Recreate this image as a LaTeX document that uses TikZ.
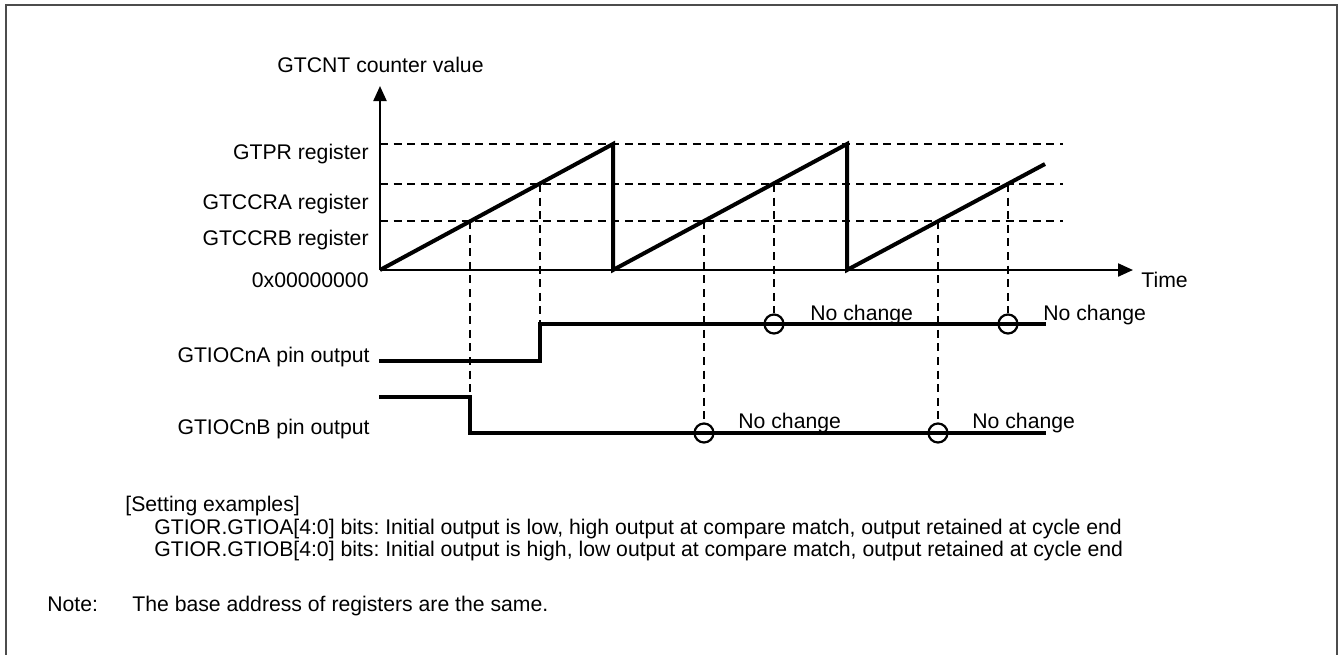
\documentclass[tikz,border=0pt]{standalone}
\usepackage{fontspec}
\setmainfont{Liberation Sans}
\usetikzlibrary{arrows.meta}
\frenchspacing
\begin{document}
\begin{tikzpicture}[x=0.5pt,y=-0.5pt,
  txt/.style={font=\fontsize{10.6}{12}\selectfont, inner sep=0pt},
  axis/.style={line width=1.1pt},
  saw/.style={line width=2pt, line join=miter},
  sig/.style={line width=1.8pt, line join=miter},
  guide/.style={line width=1.3pt, dash pattern=on 4pt off 2.8pt},
  nochg/.style={circle, draw, line width=1.1pt, minimum size=9.5pt, inner sep=0pt},
  frame/.style={line width=1.1pt, draw=black!70}]
\useasboundingbox (0,0) rectangle (1340,654);
\draw[frame] (6,660) -- (6,5) -- (1337,5) -- (1337,660);

% axes
\coordinate (O) at (380,270);
\coordinate (Ytop) at (380,86);
\coordinate (Xend) at (1133,270);
\draw[axis,-{Triangle[width=6.5pt,length=7.5pt]}] (O) -- (Ytop);
\draw[axis,-{Triangle[width=6.5pt,length=7.5pt]}] (O) -- (Xend);

% level guides
\coordinate (PRl) at (380,144); \coordinate (PRr) at (1063,144);
\coordinate (CAl) at (380,184); \coordinate (CAr) at (1063,184);
\coordinate (CBl) at (380,221); \coordinate (CBr) at (1063,221);
\draw[guide] (PRl) -- (PRr);
\draw[guide] (CAl) -- (CAr);
\draw[guide] (CBl) -- (CBr);

% sawtooth
\coordinate (P1) at (613,144); \coordinate (Z1) at (613,270);
\coordinate (P2) at (847,144); \coordinate (Z2) at (847,270);
\coordinate (E3) at (1045,164);
\draw[saw] (O) -- (P1) -- (Z1) -- (P2) -- (Z2) -- (E3);

% output A
\coordinate (A0) at (379,361); \coordinate (A1) at (540,361);
\coordinate (A2) at (540,324); \coordinate (A3) at (1046,324);
\draw[sig] (A0) -- (A1) -- (A2) -- (A3);
% output B
\coordinate (B0) at (379,397); \coordinate (B1) at (470,397);
\coordinate (B2) at (470,433); \coordinate (B3) at (1046,433);
\draw[sig] (B0) -- (B1) -- (B2) -- (B3);

% no-change circles
\node[nochg] (cA1) at (774,324) {};
\node[nochg] (cA2) at (1008,324) {};
\node[nochg] (cB1) at (704,433) {};
\node[nochg] (cB2) at (938,433) {};

% compare match points
\coordinate (mB1) at (470,221); \coordinate (mA1) at (540,184);
\coordinate (mB2) at (704,221); \coordinate (mA2) at (774,184);
\coordinate (mB3) at (938,221); \coordinate (mA3) at (1008,184);
\draw[guide] (mB1) -- (B1);
\draw[guide] (mA1) -- (A2);
\draw[guide] (mB2) -- (cB1.north);
\draw[guide] (mA2) -- (cA1.north);
\draw[guide] (mB3) -- (cB2.north);
\draw[guide] (mA3) -- (cA2.north);

% labels
\node[txt, anchor=base west] (ylab) at (277,72) {GTCNT counter value};
\node[txt, anchor=base east] (lpr) at (369,159) {GTPR register};
\node[txt, anchor=base east] (lca) at (369,209) {GTCCRA register};
\node[txt, anchor=base east] (lcb) at (369,245) {GTCCRB register};
\node[txt, anchor=base east] (lzero) at (369,287) {0x00000000};
\node[txt, anchor=base west] (xlab) at (1141,287) {Time};
\node[txt, anchor=base east] (loa) at (370,362) {GTIOCnA pin output};
\node[txt, anchor=base east] (lob) at (370,434) {GTIOCnB pin output};
\node[txt, anchor=base west] (nA1) at (810,320) {No change};
\node[txt, anchor=base west] (nA2) at (1043,320) {No change};
\node[txt, anchor=base west] (nB1) at (738,428) {No change};
\node[txt, anchor=base west] (nB2) at (972,428) {No change};

% notes
\node[txt, anchor=base west] (set) at (125,511) {[Setting examples]};
\node[txt, anchor=base west] (setA) at (154,534) {GTIOR.GTIOA[4:0] bits: Initial output is low, high output at compare match, output retained at cycle end};
\node[txt, anchor=base west] (setB) at (154,556) {GTIOR.GTIOB[4:0] bits: Initial output is high, low output at compare match, output retained at cycle end};
\node[txt, anchor=base west] (note) at (47,611) {Note:};
\node[txt, anchor=base west] (notet) at (132,611) {The base address of registers are the same.};
\end{tikzpicture}
\end{document}
